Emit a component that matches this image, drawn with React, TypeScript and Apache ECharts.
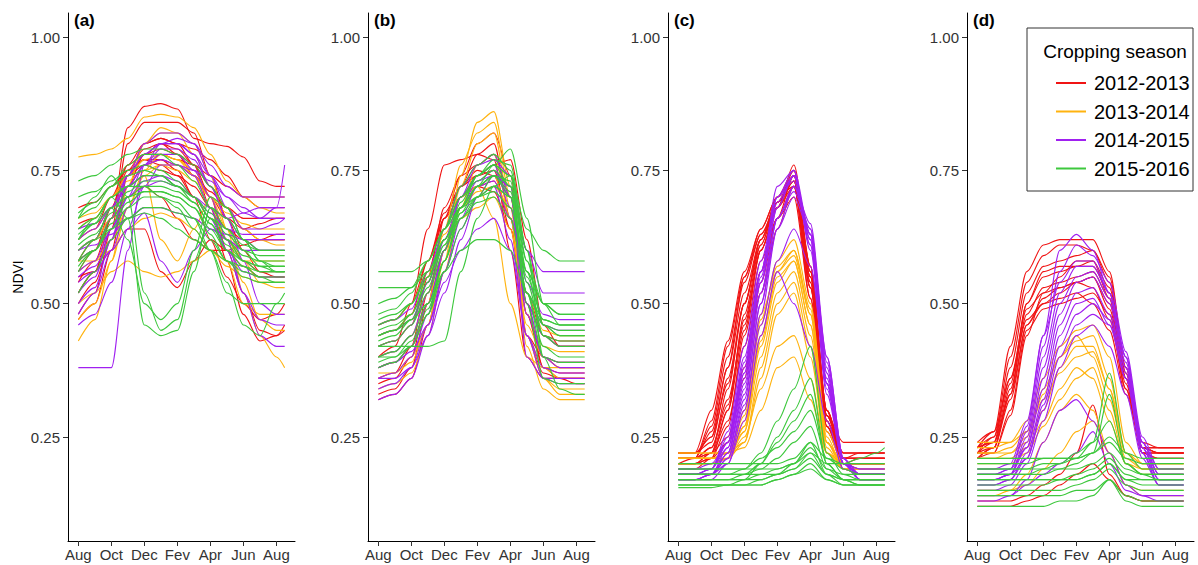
import React, { useEffect, useRef } from "react";
import * as echarts from "echarts";

const SEASONS = ["2012-2013", "2013-2014", "2014-2015", "2015-2016"];
const COLORS = ["#F01414", "#FFB30F", "#A020F0", "#3DC83D"];
const MONTHS = [0, 1, 2, 3, 4, 5, 6, 7, 8, 9, 10, 11, 12, 12.5];
const X_TICKS = [0, 2, 4, 6, 8, 10, 12];
const X_LABELS = ["Aug", "Oct", "Dec", "Fev", "Apr", "Jun", "Aug"];
const Y_TICKS = [0.25, 0.5, 0.75, 1.0];
const PANEL_LABELS = ["(a)", "(b)", "(c)", "(d)"];
const Y_NAME = "NDVI";
const LEGEND_TITLE = "Cropping season";

// ---------- Panel (a) ----------
const a2012 = [
  [0.52, 0.56, 0.66, 0.83, 0.87, 0.875, 0.865, 0.81, 0.8, 0.795, 0.775, 0.73, 0.72, 0.72],
  [0.48, 0.52, 0.64, 0.8, 0.84, 0.84, 0.84, 0.82, 0.74, 0.66, 0.6, 0.56, 0.55, 0.55],
  [0.47, 0.5, 0.6, 0.74, 0.8, 0.81, 0.8, 0.76, 0.68, 0.58, 0.48, 0.43, 0.44, 0.46],
  [0.58, 0.62, 0.68, 0.75, 0.79, 0.8, 0.78, 0.74, 0.7, 0.66, 0.64, 0.65, 0.66, 0.66],
  [0.62, 0.64, 0.7, 0.76, 0.78, 0.78, 0.77, 0.76, 0.74, 0.72, 0.7, 0.7, 0.7, 0.7],
  [0.52, 0.56, 0.64, 0.72, 0.76, 0.77, 0.75, 0.7, 0.62, 0.55, 0.5, 0.47, 0.48, 0.5],
  [0.6, 0.62, 0.66, 0.7, 0.72, 0.7, 0.66, 0.62, 0.6, 0.6, 0.61, 0.62, 0.62, 0.62],
  [0.65, 0.66, 0.7, 0.74, 0.76, 0.75, 0.74, 0.72, 0.68, 0.64, 0.62, 0.62, 0.63, 0.63],
  [0.55, 0.56, 0.6, 0.64, 0.64, 0.56, 0.53, 0.58, 0.62, 0.6, 0.57, 0.55, 0.55, 0.55],
  [0.5, 0.54, 0.62, 0.72, 0.78, 0.8, 0.79, 0.76, 0.7, 0.6, 0.52, 0.45, 0.44, 0.45],
  [0.56, 0.6, 0.68, 0.76, 0.8, 0.81, 0.8, 0.79, 0.77, 0.74, 0.7, 0.68, 0.68, 0.68],
  [0.68, 0.69, 0.72, 0.75, 0.77, 0.77, 0.76, 0.74, 0.71, 0.68, 0.66, 0.66, 0.66, 0.66],
  [0.58, 0.6, 0.66, 0.74, 0.78, 0.79, 0.78, 0.76, 0.72, 0.68, 0.64, 0.62, 0.62, 0.62],
  [0.54, 0.58, 0.66, 0.74, 0.77, 0.76, 0.74, 0.7, 0.66, 0.62, 0.58, 0.56, 0.56, 0.56],
];
const a2013 = [
  [0.775, 0.78, 0.79, 0.81, 0.85, 0.855, 0.85, 0.83, 0.78, 0.73, 0.7, 0.68, 0.67, 0.67],
  [0.43, 0.47, 0.58, 0.72, 0.8, 0.82, 0.82, 0.8, 0.74, 0.64, 0.52, 0.44, 0.4, 0.38],
  [0.6, 0.62, 0.66, 0.74, 0.8, 0.83, 0.82, 0.78, 0.72, 0.68, 0.64, 0.62, 0.61, 0.61],
  [0.56, 0.58, 0.62, 0.68, 0.74, 0.76, 0.76, 0.74, 0.7, 0.64, 0.58, 0.54, 0.53, 0.53],
  [0.64, 0.66, 0.7, 0.74, 0.77, 0.78, 0.77, 0.74, 0.68, 0.62, 0.58, 0.58, 0.58, 0.58],
  [0.5, 0.52, 0.56, 0.58, 0.56, 0.55, 0.56, 0.58, 0.6, 0.58, 0.5, 0.48, 0.48, 0.48],
  [0.47, 0.5, 0.58, 0.68, 0.75, 0.78, 0.77, 0.75, 0.7, 0.62, 0.54, 0.47, 0.45, 0.45],
  [0.66, 0.67, 0.7, 0.73, 0.75, 0.76, 0.75, 0.73, 0.7, 0.67, 0.65, 0.64, 0.64, 0.64],
  [0.58, 0.58, 0.6, 0.64, 0.66, 0.67, 0.66, 0.64, 0.6, 0.57, 0.55, 0.54, 0.54, 0.54],
  [0.62, 0.64, 0.68, 0.72, 0.74, 0.62, 0.58, 0.64, 0.7, 0.68, 0.64, 0.62, 0.62, 0.62],
];
const a2014 = [
  [0.38, 0.38, 0.38, 0.6, 0.76, 0.8, 0.81, 0.8, 0.76, 0.72, 0.7, 0.7, 0.7, 0.7],
  [0.5, 0.53, 0.62, 0.74, 0.8, 0.82, 0.82, 0.8, 0.74, 0.68, 0.64, 0.64, 0.65, 0.66],
  [0.52, 0.55, 0.64, 0.72, 0.76, 0.78, 0.78, 0.75, 0.7, 0.62, 0.52, 0.44, 0.42, 0.42],
  [0.56, 0.58, 0.64, 0.7, 0.73, 0.74, 0.73, 0.7, 0.68, 0.66, 0.67, 0.68, 0.68, 0.68],
  [0.48, 0.52, 0.6, 0.68, 0.72, 0.73, 0.72, 0.7, 0.66, 0.6, 0.56, 0.55, 0.55, 0.55],
  [0.6, 0.61, 0.63, 0.66, 0.68, 0.68, 0.67, 0.66, 0.64, 0.63, 0.62, 0.62, 0.62, 0.62],
  [0.54, 0.56, 0.6, 0.64, 0.67, 0.58, 0.54, 0.6, 0.64, 0.62, 0.6, 0.6, 0.6, 0.6],
  [0.58, 0.6, 0.66, 0.74, 0.78, 0.8, 0.8, 0.78, 0.72, 0.66, 0.58, 0.5, 0.48, 0.48],
  [0.62, 0.64, 0.68, 0.72, 0.76, 0.77, 0.76, 0.75, 0.73, 0.7, 0.68, 0.66, 0.66, 0.66],
  [0.6, 0.62, 0.68, 0.74, 0.78, 0.8, 0.8, 0.78, 0.74, 0.7, 0.67, 0.66, 0.68, 0.76],
  [0.46, 0.48, 0.54, 0.64, 0.72, 0.76, 0.76, 0.74, 0.68, 0.6, 0.52, 0.47, 0.46, 0.46],
  [0.55, 0.57, 0.62, 0.7, 0.76, 0.79, 0.79, 0.77, 0.72, 0.66, 0.62, 0.6, 0.6, 0.6],
  [0.64, 0.65, 0.68, 0.72, 0.74, 0.74, 0.72, 0.7, 0.67, 0.64, 0.63, 0.63, 0.63, 0.63],
];
const a2015 = [
  [0.73, 0.74, 0.76, 0.78, 0.79, 0.79, 0.78, 0.76, 0.72, 0.68, 0.62, 0.6, 0.6, 0.6],
  [0.62, 0.66, 0.7, 0.66, 0.46, 0.44, 0.45, 0.56, 0.68, 0.66, 0.62, 0.58, 0.57, 0.57],
  [0.58, 0.62, 0.68, 0.62, 0.5, 0.47, 0.5, 0.6, 0.7, 0.68, 0.62, 0.58, 0.56, 0.56],
  [0.62, 0.65, 0.7, 0.72, 0.72, 0.7, 0.68, 0.64, 0.6, 0.54, 0.46, 0.44, 0.5, 0.52],
  [0.64, 0.66, 0.7, 0.72, 0.74, 0.74, 0.72, 0.7, 0.66, 0.62, 0.58, 0.56, 0.56, 0.56],
  [0.56, 0.6, 0.66, 0.7, 0.72, 0.72, 0.71, 0.69, 0.65, 0.6, 0.58, 0.57, 0.57, 0.57],
  [0.66, 0.68, 0.72, 0.76, 0.78, 0.78, 0.76, 0.73, 0.68, 0.64, 0.61, 0.6, 0.6, 0.6],
  [0.52, 0.56, 0.62, 0.66, 0.68, 0.68, 0.67, 0.66, 0.62, 0.58, 0.56, 0.55, 0.55, 0.55],
  [0.7, 0.71, 0.73, 0.75, 0.76, 0.75, 0.73, 0.7, 0.66, 0.62, 0.59, 0.58, 0.58, 0.58],
  [0.6, 0.62, 0.64, 0.66, 0.67, 0.66, 0.64, 0.62, 0.6, 0.58, 0.57, 0.56, 0.56, 0.56],
  [0.66, 0.7, 0.74, 0.7, 0.52, 0.45, 0.47, 0.58, 0.66, 0.64, 0.6, 0.57, 0.56, 0.56],
  [0.58, 0.6, 0.64, 0.68, 0.7, 0.7, 0.69, 0.66, 0.6, 0.52, 0.5, 0.5, 0.5, 0.5],
  [0.63, 0.65, 0.68, 0.7, 0.71, 0.71, 0.7, 0.68, 0.64, 0.6, 0.57, 0.55, 0.54, 0.54],
  [0.61, 0.63, 0.67, 0.71, 0.73, 0.73, 0.72, 0.7, 0.67, 0.63, 0.6, 0.59, 0.59, 0.59],
  [0.67, 0.69, 0.72, 0.74, 0.75, 0.74, 0.72, 0.69, 0.65, 0.61, 0.58, 0.57, 0.57, 0.57],
  [0.57, 0.6, 0.65, 0.69, 0.71, 0.71, 0.7, 0.68, 0.63, 0.58, 0.55, 0.54, 0.54, 0.54],
];

// ---------- Panel (b) ----------
const b2012 = [
  [0.4, 0.42, 0.5, 0.64, 0.76, 0.77, 0.78, 0.8, 0.66, 0.44, 0.4, 0.39, 0.39, 0.39],
  [0.33, 0.34, 0.38, 0.5, 0.66, 0.74, 0.8, 0.82, 0.74, 0.5, 0.38, 0.36, 0.35, 0.35],
  [0.36, 0.37, 0.42, 0.55, 0.68, 0.74, 0.76, 0.78, 0.7, 0.48, 0.4, 0.38, 0.38, 0.38],
  [0.42, 0.43, 0.46, 0.56, 0.66, 0.72, 0.75, 0.74, 0.66, 0.52, 0.44, 0.42, 0.42, 0.42],
  [0.44, 0.45, 0.48, 0.58, 0.67, 0.72, 0.74, 0.76, 0.77, 0.62, 0.46, 0.42, 0.42, 0.42],
  [0.38, 0.39, 0.42, 0.5, 0.6, 0.68, 0.72, 0.73, 0.66, 0.48, 0.38, 0.37, 0.37, 0.37],
  [0.46, 0.47, 0.5, 0.58, 0.66, 0.7, 0.72, 0.71, 0.64, 0.5, 0.44, 0.43, 0.43, 0.43],
  [0.35, 0.36, 0.4, 0.52, 0.64, 0.72, 0.78, 0.77, 0.6, 0.4, 0.36, 0.36, 0.36, 0.36],
  [0.32, 0.33, 0.36, 0.46, 0.6, 0.7, 0.74, 0.75, 0.64, 0.44, 0.37, 0.36, 0.36, 0.36],
];
const b2013 = [
  [0.36, 0.37, 0.4, 0.46, 0.58, 0.74, 0.84, 0.86, 0.72, 0.44, 0.36, 0.33, 0.33, 0.33],
  [0.38, 0.39, 0.42, 0.5, 0.64, 0.76, 0.82, 0.84, 0.7, 0.44, 0.38, 0.36, 0.36, 0.36],
  [0.44, 0.45, 0.48, 0.55, 0.64, 0.7, 0.72, 0.66, 0.5, 0.4, 0.38, 0.38, 0.38, 0.38],
  [0.42, 0.43, 0.46, 0.54, 0.62, 0.68, 0.72, 0.74, 0.66, 0.48, 0.42, 0.41, 0.41, 0.41],
  [0.34, 0.35, 0.37, 0.44, 0.56, 0.68, 0.76, 0.78, 0.66, 0.44, 0.36, 0.34, 0.34, 0.34],
  [0.46, 0.47, 0.5, 0.56, 0.63, 0.68, 0.71, 0.72, 0.68, 0.52, 0.45, 0.44, 0.44, 0.44],
  [0.4, 0.41, 0.44, 0.52, 0.6, 0.66, 0.68, 0.7, 0.64, 0.46, 0.4, 0.38, 0.38, 0.38],
  [0.37, 0.37, 0.39, 0.46, 0.6, 0.72, 0.8, 0.82, 0.68, 0.42, 0.34, 0.32, 0.32, 0.32],
];
const b2014 = [
  [0.32, 0.33, 0.36, 0.44, 0.56, 0.66, 0.72, 0.74, 0.72, 0.6, 0.56, 0.56, 0.56, 0.56],
  [0.36, 0.37, 0.4, 0.48, 0.6, 0.7, 0.76, 0.78, 0.7, 0.48, 0.4, 0.38, 0.38, 0.38],
  [0.4, 0.41, 0.44, 0.52, 0.62, 0.7, 0.74, 0.76, 0.68, 0.5, 0.44, 0.42, 0.42, 0.42],
  [0.34, 0.35, 0.38, 0.46, 0.56, 0.64, 0.7, 0.72, 0.62, 0.44, 0.36, 0.35, 0.35, 0.35],
  [0.44, 0.45, 0.47, 0.54, 0.62, 0.68, 0.72, 0.73, 0.66, 0.52, 0.46, 0.45, 0.45, 0.45],
  [0.38, 0.39, 0.41, 0.46, 0.54, 0.6, 0.64, 0.66, 0.6, 0.44, 0.38, 0.37, 0.37, 0.37],
  [0.42, 0.43, 0.46, 0.54, 0.64, 0.72, 0.76, 0.77, 0.74, 0.6, 0.52, 0.52, 0.52, 0.52],
  [0.46, 0.47, 0.49, 0.56, 0.64, 0.7, 0.73, 0.74, 0.7, 0.54, 0.48, 0.47, 0.47, 0.47],
  [0.36, 0.36, 0.38, 0.44, 0.52, 0.62, 0.7, 0.74, 0.72, 0.4, 0.36, 0.36, 0.36, 0.36],
  [0.38, 0.39, 0.42, 0.5, 0.6, 0.68, 0.73, 0.75, 0.7, 0.5, 0.4, 0.39, 0.39, 0.39],
];
const b2015 = [
  [0.56, 0.56, 0.56, 0.58, 0.64, 0.7, 0.74, 0.76, 0.74, 0.64, 0.6, 0.58, 0.58, 0.58],
  [0.53, 0.53, 0.53, 0.56, 0.62, 0.68, 0.72, 0.74, 0.7, 0.56, 0.5, 0.48, 0.48, 0.48],
  [0.45, 0.46, 0.48, 0.54, 0.64, 0.72, 0.76, 0.78, 0.75, 0.58, 0.46, 0.44, 0.44, 0.44],
  [0.42, 0.43, 0.46, 0.52, 0.6, 0.68, 0.74, 0.76, 0.72, 0.54, 0.44, 0.42, 0.42, 0.42],
  [0.48, 0.49, 0.52, 0.58, 0.64, 0.7, 0.73, 0.75, 0.72, 0.58, 0.5, 0.48, 0.48, 0.48],
  [0.4, 0.41, 0.44, 0.5, 0.58, 0.66, 0.7, 0.72, 0.7, 0.52, 0.42, 0.4, 0.4, 0.4],
  [0.44, 0.45, 0.47, 0.5, 0.56, 0.6, 0.62, 0.62, 0.6, 0.52, 0.46, 0.45, 0.45, 0.45],
  [0.38, 0.39, 0.42, 0.48, 0.58, 0.68, 0.74, 0.77, 0.76, 0.6, 0.4, 0.34, 0.33, 0.33],
  [0.46, 0.47, 0.5, 0.56, 0.62, 0.68, 0.72, 0.76, 0.79, 0.66, 0.5, 0.46, 0.46, 0.46],
  [0.5, 0.51, 0.53, 0.58, 0.64, 0.68, 0.7, 0.71, 0.68, 0.56, 0.5, 0.5, 0.5, 0.5],
  [0.42, 0.42, 0.42, 0.42, 0.43, 0.56, 0.66, 0.72, 0.74, 0.6, 0.46, 0.44, 0.44, 0.44],
  [0.44, 0.45, 0.48, 0.55, 0.62, 0.67, 0.7, 0.72, 0.7, 0.55, 0.47, 0.46, 0.46, 0.46],
  [0.47, 0.48, 0.5, 0.55, 0.61, 0.66, 0.69, 0.7, 0.66, 0.52, 0.47, 0.46, 0.46, 0.46],
  [0.4, 0.4, 0.42, 0.48, 0.56, 0.64, 0.7, 0.74, 0.73, 0.5, 0.36, 0.35, 0.35, 0.35],
  [0.43, 0.44, 0.47, 0.53, 0.61, 0.69, 0.74, 0.76, 0.74, 0.56, 0.44, 0.43, 0.43, 0.43],
  [0.39, 0.4, 0.43, 0.49, 0.58, 0.67, 0.72, 0.74, 0.71, 0.52, 0.4, 0.39, 0.39, 0.39],
];

// ---------- Panel (c) ----------
const c2012 = [
  [0.22, 0.22, 0.3, 0.43, 0.56, 0.64, 0.7, 0.75, 0.56, 0.3, 0.22, 0.22, 0.22, 0.22],
  [0.21, 0.21, 0.27, 0.4, 0.54, 0.63, 0.68, 0.73, 0.53, 0.28, 0.21, 0.21, 0.21, 0.21],
  [0.22, 0.22, 0.24, 0.36, 0.5, 0.62, 0.68, 0.74, 0.57, 0.29, 0.24, 0.24, 0.24, 0.24],
  [0.21, 0.21, 0.23, 0.32, 0.46, 0.6, 0.68, 0.72, 0.53, 0.27, 0.2, 0.2, 0.2, 0.2],
  [0.2, 0.2, 0.22, 0.28, 0.42, 0.56, 0.66, 0.7, 0.51, 0.26, 0.2, 0.2, 0.2, 0.2],
  [0.19, 0.19, 0.21, 0.3, 0.45, 0.6, 0.68, 0.76, 0.57, 0.3, 0.19, 0.19, 0.19, 0.19],
  [0.22, 0.22, 0.25, 0.38, 0.55, 0.64, 0.7, 0.72, 0.51, 0.27, 0.22, 0.22, 0.22, 0.22],
  [0.2, 0.2, 0.22, 0.25, 0.38, 0.52, 0.64, 0.72, 0.55, 0.29, 0.21, 0.21, 0.21, 0.21],
  [0.21, 0.21, 0.22, 0.34, 0.5, 0.62, 0.7, 0.74, 0.55, 0.28, 0.21, 0.21, 0.21, 0.21],
  [0.2, 0.2, 0.21, 0.27, 0.44, 0.58, 0.66, 0.72, 0.53, 0.27, 0.2, 0.21, 0.21, 0.21],
  [0.21, 0.21, 0.22, 0.3, 0.48, 0.61, 0.69, 0.73, 0.54, 0.28, 0.21, 0.22, 0.22, 0.22],
  [0.2, 0.2, 0.21, 0.24, 0.36, 0.54, 0.66, 0.74, 0.56, 0.3, 0.2, 0.2, 0.2, 0.2],
  [0.21, 0.21, 0.26, 0.38, 0.52, 0.62, 0.69, 0.74, 0.56, 0.29, 0.21, 0.21, 0.21, 0.21],
  [0.2, 0.21, 0.28, 0.42, 0.55, 0.63, 0.69, 0.73, 0.54, 0.28, 0.2, 0.2, 0.2, 0.2],
  [0.21, 0.21, 0.23, 0.31, 0.47, 0.6, 0.68, 0.75, 0.57, 0.3, 0.21, 0.21, 0.21, 0.21],
  [0.22, 0.22, 0.25, 0.35, 0.5, 0.61, 0.69, 0.73, 0.55, 0.29, 0.22, 0.22, 0.22, 0.22],
];
const c2013 = [
  [0.21, 0.21, 0.21, 0.22, 0.27, 0.42, 0.54, 0.58, 0.46, 0.24, 0.2, 0.19, 0.19, 0.19],
  [0.2, 0.2, 0.2, 0.21, 0.24, 0.36, 0.48, 0.52, 0.4, 0.22, 0.19, 0.18, 0.18, 0.18],
  [0.22, 0.22, 0.22, 0.22, 0.23, 0.3, 0.38, 0.4, 0.32, 0.22, 0.2, 0.2, 0.2, 0.2],
  [0.21, 0.21, 0.21, 0.22, 0.28, 0.46, 0.58, 0.62, 0.5, 0.26, 0.2, 0.19, 0.19, 0.19],
  [0.2, 0.2, 0.2, 0.21, 0.26, 0.4, 0.52, 0.56, 0.44, 0.23, 0.19, 0.19, 0.19, 0.19],
  [0.21, 0.21, 0.21, 0.21, 0.25, 0.34, 0.42, 0.44, 0.36, 0.22, 0.2, 0.2, 0.2, 0.2],
  [0.2, 0.2, 0.2, 0.21, 0.3, 0.48, 0.56, 0.59, 0.48, 0.24, 0.19, 0.18, 0.18, 0.18],
  [0.22, 0.22, 0.22, 0.22, 0.26, 0.44, 0.56, 0.6, 0.48, 0.24, 0.2, 0.19, 0.19, 0.19],
  [0.21, 0.21, 0.21, 0.22, 0.24, 0.38, 0.5, 0.54, 0.42, 0.22, 0.19, 0.19, 0.19, 0.19],
  [0.21, 0.21, 0.21, 0.22, 0.29, 0.47, 0.57, 0.6, 0.49, 0.25, 0.19, 0.19, 0.19, 0.19],
  [0.2, 0.2, 0.2, 0.21, 0.27, 0.43, 0.55, 0.58, 0.46, 0.24, 0.19, 0.18, 0.18, 0.18],
];
const c2014 = [
  [0.18, 0.18, 0.19, 0.26, 0.42, 0.58, 0.7, 0.75, 0.63, 0.35, 0.2, 0.18, 0.18, 0.18],
  [0.17, 0.17, 0.17, 0.2, 0.3, 0.48, 0.64, 0.72, 0.63, 0.4, 0.21, 0.17, 0.17, 0.17],
  [0.19, 0.19, 0.19, 0.23, 0.36, 0.54, 0.68, 0.74, 0.61, 0.35, 0.2, 0.18, 0.18, 0.18],
  [0.18, 0.18, 0.18, 0.22, 0.34, 0.52, 0.66, 0.72, 0.65, 0.4, 0.21, 0.18, 0.18, 0.18],
  [0.18, 0.18, 0.19, 0.25, 0.4, 0.56, 0.72, 0.75, 0.6, 0.33, 0.2, 0.18, 0.18, 0.18],
  [0.17, 0.17, 0.18, 0.21, 0.32, 0.5, 0.64, 0.7, 0.63, 0.37, 0.2, 0.17, 0.17, 0.17],
  [0.19, 0.19, 0.2, 0.24, 0.38, 0.56, 0.7, 0.73, 0.61, 0.34, 0.2, 0.19, 0.19, 0.19],
  [0.18, 0.18, 0.18, 0.21, 0.31, 0.46, 0.58, 0.64, 0.57, 0.36, 0.2, 0.18, 0.18, 0.18],
  [0.17, 0.17, 0.18, 0.22, 0.35, 0.52, 0.66, 0.71, 0.64, 0.39, 0.21, 0.17, 0.17, 0.17],
  [0.18, 0.18, 0.19, 0.24, 0.37, 0.55, 0.69, 0.74, 0.62, 0.35, 0.2, 0.18, 0.18, 0.18],
  [0.18, 0.18, 0.18, 0.2, 0.28, 0.44, 0.56, 0.5, 0.42, 0.28, 0.19, 0.18, 0.18, 0.18],
  [0.18, 0.18, 0.18, 0.23, 0.37, 0.54, 0.68, 0.74, 0.63, 0.37, 0.2, 0.18, 0.18, 0.18],
  [0.17, 0.17, 0.18, 0.22, 0.33, 0.5, 0.66, 0.72, 0.64, 0.38, 0.2, 0.17, 0.17, 0.17],
  [0.19, 0.19, 0.19, 0.24, 0.39, 0.56, 0.7, 0.74, 0.62, 0.35, 0.2, 0.19, 0.19, 0.19],
];
const c2015 = [
  [0.17, 0.17, 0.17, 0.17, 0.17, 0.17, 0.18, 0.19, 0.21, 0.18, 0.17, 0.16, 0.16, 0.16],
  [0.18, 0.18, 0.18, 0.18, 0.19, 0.22, 0.28, 0.34, 0.42, 0.22, 0.18, 0.17, 0.17, 0.17],
  [0.16, 0.16, 0.16, 0.16, 0.17, 0.2, 0.25, 0.3, 0.36, 0.2, 0.17, 0.16, 0.16, 0.16],
  [0.19, 0.19, 0.19, 0.19, 0.19, 0.21, 0.23, 0.26, 0.3, 0.21, 0.19, 0.18, 0.18, 0.18],
  [0.16, 0.16, 0.16, 0.16, 0.16, 0.16, 0.17, 0.18, 0.2, 0.17, 0.16, 0.16, 0.16, 0.16],
  [0.18, 0.18, 0.18, 0.18, 0.18, 0.18, 0.19, 0.2, 0.23, 0.19, 0.18, 0.18, 0.18, 0.18],
  [0.17, 0.17, 0.17, 0.17, 0.18, 0.2, 0.24, 0.28, 0.33, 0.2, 0.17, 0.17, 0.17, 0.17],
  [0.19, 0.19, 0.19, 0.19, 0.19, 0.19, 0.19, 0.2, 0.22, 0.2, 0.2, 0.21, 0.22, 0.23],
  [0.16, 0.16, 0.16, 0.16, 0.16, 0.17, 0.18, 0.2, 0.24, 0.18, 0.16, 0.16, 0.16, 0.16],
  [0.18, 0.18, 0.18, 0.18, 0.18, 0.19, 0.21, 0.24, 0.27, 0.19, 0.17, 0.17, 0.17, 0.17],
  [0.17, 0.17, 0.17, 0.17, 0.17, 0.18, 0.18, 0.19, 0.22, 0.18, 0.17, 0.17, 0.17, 0.17],
  [0.155, 0.155, 0.155, 0.16, 0.16, 0.16, 0.17, 0.18, 0.19, 0.17, 0.16, 0.16, 0.16, 0.16],
  [0.2, 0.2, 0.2, 0.2, 0.2, 0.2, 0.2, 0.21, 0.24, 0.21, 0.2, 0.2, 0.2, 0.2],
];

// ---------- Panel (d) ----------
const d2012 = [
  [0.23, 0.26, 0.42, 0.56, 0.61, 0.62, 0.62, 0.62, 0.56, 0.38, 0.24, 0.23, 0.23, 0.23],
  [0.22, 0.24, 0.38, 0.52, 0.57, 0.58, 0.59, 0.6, 0.54, 0.37, 0.23, 0.22, 0.22, 0.22],
  [0.21, 0.23, 0.34, 0.48, 0.53, 0.54, 0.55, 0.56, 0.51, 0.36, 0.22, 0.22, 0.22, 0.22],
  [0.23, 0.25, 0.36, 0.49, 0.52, 0.53, 0.54, 0.53, 0.47, 0.34, 0.23, 0.23, 0.23, 0.23],
  [0.22, 0.23, 0.32, 0.46, 0.5, 0.52, 0.54, 0.55, 0.49, 0.35, 0.22, 0.22, 0.22, 0.22],
  [0.21, 0.23, 0.33, 0.5, 0.55, 0.56, 0.57, 0.58, 0.53, 0.37, 0.22, 0.21, 0.21, 0.21],
  [0.24, 0.26, 0.36, 0.47, 0.5, 0.51, 0.52, 0.5, 0.45, 0.33, 0.23, 0.23, 0.23, 0.23],
  [0.22, 0.22, 0.29, 0.44, 0.52, 0.55, 0.58, 0.58, 0.51, 0.36, 0.22, 0.22, 0.22, 0.22],
  [0.13, 0.13, 0.13, 0.14, 0.16, 0.18, 0.22, 0.31, 0.18, 0.14, 0.13, 0.13, 0.13, 0.13],
  [0.12, 0.12, 0.12, 0.13, 0.14, 0.16, 0.18, 0.2, 0.17, 0.14, 0.13, 0.13, 0.13, 0.13],
  [0.23, 0.24, 0.33, 0.46, 0.51, 0.53, 0.54, 0.55, 0.5, 0.36, 0.23, 0.22, 0.22, 0.22],
  [0.22, 0.25, 0.4, 0.54, 0.59, 0.61, 0.61, 0.6, 0.55, 0.38, 0.23, 0.22, 0.22, 0.22],
  [0.21, 0.22, 0.3, 0.45, 0.49, 0.5, 0.51, 0.52, 0.48, 0.34, 0.22, 0.21, 0.21, 0.21],
  [0.23, 0.24, 0.35, 0.5, 0.56, 0.57, 0.57, 0.57, 0.52, 0.36, 0.23, 0.23, 0.23, 0.23],
];
const d2013 = [
  [0.23, 0.23, 0.24, 0.28, 0.36, 0.42, 0.45, 0.46, 0.4, 0.24, 0.2, 0.2, 0.2, 0.2],
  [0.22, 0.22, 0.22, 0.24, 0.3, 0.38, 0.42, 0.42, 0.34, 0.22, 0.19, 0.19, 0.19, 0.19],
  [0.21, 0.21, 0.22, 0.25, 0.33, 0.4, 0.44, 0.4, 0.32, 0.21, 0.19, 0.19, 0.19, 0.19],
  [0.2, 0.2, 0.2, 0.22, 0.27, 0.32, 0.36, 0.38, 0.3, 0.2, 0.18, 0.18, 0.18, 0.18],
  [0.14, 0.14, 0.15, 0.18, 0.24, 0.3, 0.33, 0.3, 0.22, 0.16, 0.15, 0.15, 0.15, 0.15],
  [0.22, 0.22, 0.23, 0.26, 0.34, 0.4, 0.43, 0.44, 0.36, 0.22, 0.2, 0.2, 0.2, 0.2],
  [0.21, 0.21, 0.21, 0.23, 0.28, 0.34, 0.38, 0.36, 0.28, 0.2, 0.19, 0.19, 0.19, 0.19],
  [0.24, 0.24, 0.24, 0.26, 0.32, 0.37, 0.4, 0.41, 0.34, 0.22, 0.2, 0.2, 0.2, 0.2],
  [0.15, 0.15, 0.15, 0.16, 0.19, 0.22, 0.26, 0.28, 0.22, 0.16, 0.14, 0.14, 0.14, 0.14],
];
const d2014 = [
  [0.18, 0.18, 0.19, 0.27, 0.44, 0.6, 0.63, 0.6, 0.52, 0.4, 0.24, 0.18, 0.18, 0.18],
  [0.19, 0.19, 0.2, 0.28, 0.44, 0.54, 0.58, 0.58, 0.52, 0.4, 0.24, 0.19, 0.19, 0.19],
  [0.17, 0.17, 0.18, 0.23, 0.36, 0.48, 0.54, 0.55, 0.5, 0.38, 0.23, 0.17, 0.17, 0.17],
  [0.16, 0.16, 0.17, 0.22, 0.32, 0.44, 0.5, 0.51, 0.46, 0.36, 0.22, 0.16, 0.16, 0.16],
  [0.18, 0.18, 0.18, 0.25, 0.4, 0.52, 0.57, 0.57, 0.52, 0.4, 0.24, 0.18, 0.18, 0.18],
  [0.15, 0.15, 0.16, 0.2, 0.28, 0.38, 0.44, 0.46, 0.42, 0.33, 0.21, 0.16, 0.16, 0.16],
  [0.19, 0.19, 0.19, 0.26, 0.42, 0.56, 0.61, 0.59, 0.54, 0.41, 0.25, 0.19, 0.19, 0.19],
  [0.17, 0.17, 0.18, 0.21, 0.3, 0.4, 0.46, 0.48, 0.46, 0.36, 0.22, 0.17, 0.17, 0.17],
  [0.14, 0.14, 0.14, 0.16, 0.18, 0.2, 0.22, 0.26, 0.2, 0.15, 0.14, 0.14, 0.14, 0.14],
  [0.18, 0.18, 0.19, 0.23, 0.34, 0.46, 0.52, 0.53, 0.48, 0.38, 0.23, 0.18, 0.18, 0.18],
  [0.17, 0.17, 0.18, 0.24, 0.38, 0.5, 0.55, 0.56, 0.51, 0.39, 0.23, 0.17, 0.17, 0.17],
  [0.16, 0.16, 0.17, 0.21, 0.31, 0.42, 0.48, 0.5, 0.47, 0.37, 0.22, 0.16, 0.16, 0.16],
  [0.13, 0.13, 0.14, 0.17, 0.24, 0.3, 0.32, 0.28, 0.22, 0.16, 0.14, 0.13, 0.13, 0.13],
];
const d2015 = [
  [0.19, 0.19, 0.19, 0.19, 0.2, 0.2, 0.21, 0.24, 0.37, 0.22, 0.19, 0.19, 0.19, 0.19],
  [0.18, 0.18, 0.18, 0.18, 0.18, 0.19, 0.2, 0.22, 0.33, 0.2, 0.18, 0.18, 0.18, 0.18],
  [0.2, 0.2, 0.2, 0.2, 0.21, 0.21, 0.21, 0.22, 0.24, 0.21, 0.2, 0.2, 0.2, 0.2],
  [0.17, 0.17, 0.17, 0.17, 0.17, 0.17, 0.18, 0.19, 0.21, 0.18, 0.17, 0.17, 0.17, 0.17],
  [0.15, 0.15, 0.15, 0.15, 0.15, 0.15, 0.16, 0.17, 0.19, 0.16, 0.15, 0.15, 0.15, 0.15],
  [0.19, 0.19, 0.19, 0.19, 0.19, 0.19, 0.19, 0.2, 0.22, 0.19, 0.18, 0.18, 0.18, 0.18],
  [0.14, 0.14, 0.14, 0.14, 0.14, 0.14, 0.15, 0.15, 0.17, 0.14, 0.13, 0.13, 0.13, 0.13],
  [0.12, 0.12, 0.12, 0.12, 0.12, 0.13, 0.13, 0.14, 0.17, 0.13, 0.12, 0.12, 0.12, 0.12],
  [0.21, 0.21, 0.21, 0.21, 0.21, 0.21, 0.21, 0.22, 0.25, 0.22, 0.21, 0.21, 0.21, 0.21],
  [0.16, 0.16, 0.16, 0.16, 0.16, 0.17, 0.17, 0.18, 0.2, 0.17, 0.16, 0.16, 0.16, 0.16],
  [0.18, 0.18, 0.18, 0.18, 0.19, 0.2, 0.22, 0.24, 0.28, 0.2, 0.18, 0.17, 0.17, 0.17],
  [0.17, 0.17, 0.17, 0.17, 0.17, 0.17, 0.17, 0.18, 0.2, 0.17, 0.17, 0.17, 0.17, 0.17],
];

const PANELS = [
  [a2012, a2013, a2014, a2015],
  [b2012, b2013, b2014, b2015],
  [c2012, c2013, c2014, c2015],
  [d2012, d2013, d2014, d2015],
];

const FONT = "'Liberation Sans', Arial, Helvetica, sans-serif";

export default function App() {
  const ref = useRef<HTMLDivElement>(null);

  useEffect(() => {
    if (!ref.current) return;
    const chart = echarts.init(ref.current, undefined, { renderer: "svg" });

    const lefts = [68, 368, 668, 967];
    const plotW = 227;
    const top = 13;
    const plotH = 528;

    const grid = lefts.map((l) => ({ left: l, top, width: plotW, height: plotH }));

    const xAxis = lefts.map((_, i) => ({
      type: "value",
      gridIndex: i,
      min: -0.625,
      max: 13.125,
      splitLine: { show: false },
      axisLine: { show: true, onZero: false, lineStyle: { color: "#000", width: 1 } },
      axisTick: {
        show: true,
        customValues: X_TICKS,
        length: 5,
        lineStyle: { color: "#333", width: 1 },
      },
      axisLabel: {
        show: true,
        customValues: X_TICKS,
        formatter: (v: number) => X_LABELS[Math.round(v / 2)] ?? "",
        fontSize: 15,
        color: "#333",
        fontFamily: FONT,
        margin: 6,
      },
    }));

    const yAxis = lefts.map((_, i) => ({
      type: "value",
      gridIndex: i,
      min: 0.055,
      max: 1.045,
      name: i === 0 ? Y_NAME : "",
      nameLocation: "middle",
      nameGap: 43,
      nameRotate: 90,
      nameTextStyle: { fontSize: 14, color: "#000", fontFamily: FONT },
      splitLine: { show: false },
      axisLine: { show: true, onZero: false, lineStyle: { color: "#000", width: 1 } },
      axisTick: {
        show: true,
        customValues: Y_TICKS,
        length: 5,
        lineStyle: { color: "#333", width: 1 },
      },
      axisLabel: {
        show: true,
        customValues: Y_TICKS,
        formatter: (v: number) => v.toFixed(2),
        fontSize: 15,
        color: "#333",
        fontFamily: FONT,
        margin: 8,
      },
    }));

    const series: any[] = [];
    PANELS.forEach((panel, p) => {
      panel.forEach((lines, s) => {
        lines.forEach((vals) => {
          series.push({
            type: "line",
            name: SEASONS[s],
            xAxisIndex: p,
            yAxisIndex: p,
            data: MONTHS.map((m, k) => [m, vals[k]]),
            symbol: "none",
            showSymbol: false,
            smooth: 0.3,
            smoothMonotone: "x",
            silent: true,
            lineStyle: { color: COLORS[s], width: 1.1 },
            itemStyle: { color: COLORS[s] },
            emphasis: { disabled: true },
          });
        });
      });
    });

    const graphic: any[] = [
      {
        type: "rect",
        shape: { x: 1027, y: 28, width: 166, height: 163 },
        style: { fill: "#fff", stroke: "#333", lineWidth: 1 },
        z: 1,
      },
      {
        type: "text",
        x: 1115,
        y: 51,
        z: 2,
        style: {
          text: LEGEND_TITLE,
          fontSize: 19,
          fontFamily: FONT,
          fill: "#000",
          align: "center",
          verticalAlign: "middle",
        },
      },
      ...PANEL_LABELS.map((t, i) => ({
        type: "text",
        x: lefts[i] + 6,
        y: 20,
        z: 2,
        style: {
          text: t,
          fontSize: 17,
          fontWeight: "bold",
          fontFamily: FONT,
          fill: "#000",
          verticalAlign: "middle",
        },
      })),
    ];

    chart.setOption({
      animation: false,
      backgroundColor: "#fff",
      grid,
      xAxis,
      yAxis,
      series,
      graphic,
      legend: {
        data: SEASONS.map((s, i) => ({ name: s, itemStyle: { color: COLORS[i] } })),
        orient: "vertical",
        left: 1051,
        top: 68,
        icon: "rect",
        itemWidth: 30,
        itemHeight: 2,
        itemGap: 8.5,
        selectedMode: false,
        z: 10,
        textStyle: {
          fontSize: 20,
          lineHeight: 20,
          color: "#000",
          fontFamily: FONT,
          padding: [0, 0, 0, 3],
        },
      },
    });

    return () => chart.dispose();
  }, []);

  return (
    <div
      ref={ref}
      style={{ position: "fixed", left: 0, top: 0, width: 1198, height: 565, background: "#fff" }}
    />
  );
}
